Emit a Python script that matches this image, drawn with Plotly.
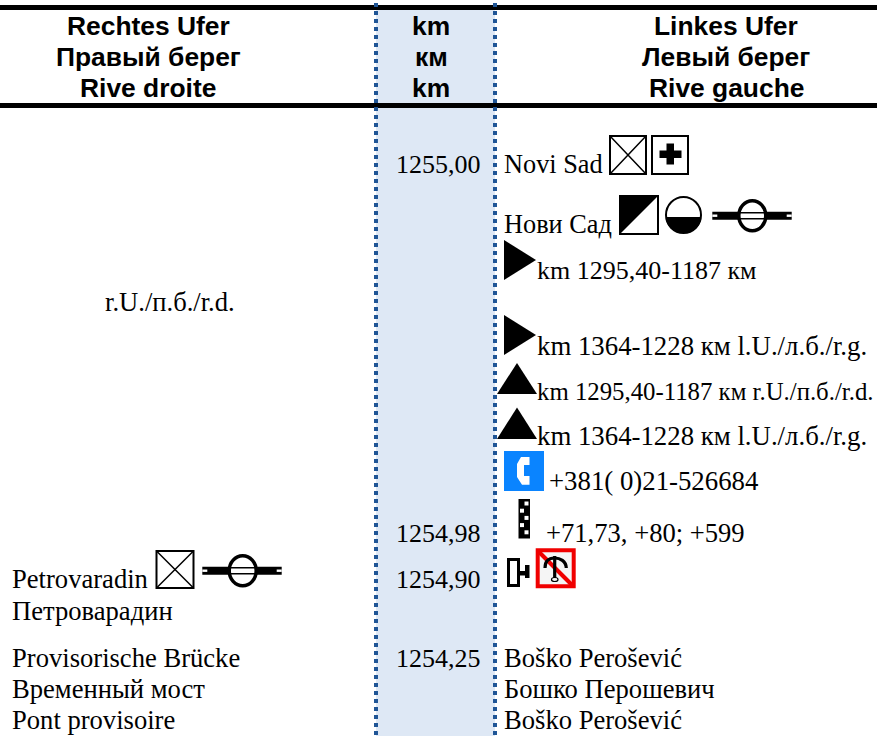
import plotly.graph_objects as go

# ---------- content ----------
header_left = ["Rechtes Ufer", "Правый берег", "Rive droite"]
header_km = ["km", "км", "km"]
header_right = ["Linkes Ufer", "Левый берег", "Rive gauche"]

km_values = ["1255,00", "1254,98", "1254,90", "1254,25"]

left_texts = ["r.U./п.б./r.d.", "Petrovaradin", "Петроварадин",
              "Provisorische Brücke", "Временный мост", "Pont provisoire"]

right_texts = ["Novi Sad", "Нови Сад", "km 1295,40-1187 км",
               "km 1364-1228 км l.U./л.б./r.g.",
               "km 1295,40-1187 км r.U./п.б./r.d.",
               "km 1364-1228 км l.U./л.б./r.g.",
               "+381( 0)21-526684", "+71,73, +80; +599",
               "Boško Perošević", "Бошко Перошевич", "Boško Perošević"]

# ---------- layout (baselines, x anchors) ----------
W, H = 883, 736
SERIF = "Liberation Serif"
SANS = "Liberation Sans"
FS = 26
LFS = 26.6
HFS = 26.4
header_base = [35, 66.5, 97]
km_base = [173, 542, 588, 667]
left_base = [311, 588, 620, 667, 698, 729]
left_x = [170, 12, 12, 12, 12, 12]
left_anchor = ["center", "left", "left", "left", "left", "left"]
right_base = [173, 233, 279, 355, 400, 445, 490, 542, 667, 698, 729]
right_x = [504, 504, 537, 537, 537, 537, 549, 546, 503.5, 503.5, 503.5]
right_size = [26.3, 26.3, 26, 26.8, 24.8, 26.8, 26.8, 26.6, 26.6, 26.6, 26.6]

anns = []


def text(x, base, s, size, family, anchor="left", bold=False, color="black"):
    asc, desc = (0.891, 0.216) if family == SERIF else (0.905, 0.212)
    yc = base - (asc - desc) / 2 * size
    anns.append(dict(x=x, y=yc, xref="x", yref="y", text=f"<b>{s}</b>" if bold else s,
                     showarrow=False, xanchor=anchor, yanchor="middle", borderpad=0, borderwidth=0,
                     font=dict(family=family, size=size, color=color)))


for i in range(3):
    text(148, header_base[i], header_left[i], HFS, SANS, "center", True)
    text(431, header_base[i], header_km[i], HFS, SANS, "center", True)
    text(726, header_base[i], header_right[i], HFS, SANS, "center", True)
for s, b in zip(km_values, km_base):
    text(481, b, s, FS, SERIF, "right")
for s, b, x, a in zip(left_texts, left_base, left_x, left_anchor):
    text(x, b, s, LFS, SERIF, a)
for s, b, x, z in zip(right_texts, right_base, right_x, right_size):
    text(x, b, s, z, SERIF)

shapes = []


def rect(x0, y0, x1, y1, fill="black", line=None, lw=0):
    shapes.append(dict(type="rect", x0=x0, y0=y0, x1=x1, y1=y1, fillcolor=fill,
                       line=dict(color=line or "rgba(0,0,0,0)", width=lw), layer="above"))


def path(d, fill="rgba(0,0,0,0)", line=None, lw=0):
    shapes.append(dict(type="path", path=d, fillcolor=fill,
                       line=dict(color=line or "rgba(0,0,0,0)", width=lw), layer="above"))


def ell(x0, y0, x1, y1, fill="white", line="black", lw=2):
    shapes.append(dict(type="circle", x0=x0, y0=y0, x1=x1, y1=y1, fillcolor=fill,
                       line=dict(color=line, width=lw), layer="above"))


def x_box(x0, y0, x1, y1):
    rect(x0, y0, x1, y1, "white", "black", 2)
    path(f"M{x0},{y0}L{x1},{y1}M{x1},{y0}L{x0},{y1}", line="black", lw=1.5)


def bridge(x0, xc, yc):
    x1 = x0 + 79.4
    rect(x0, yc - 4, x1, yc + 4)
    rect(x0, yc - 1.2, x0 + 5, yc + 1.2, "white")
    rect(x1 - 5, yc - 1.2, x1, yc + 1.2, "white")
    ell(xc - 13.5, yc - 15, xc + 13.5, yc + 15, "white", "black", 3.5)
    path(f"M{xc-13},{yc-3}L{xc+13},{yc-3}M{xc-13},{yc+3}L{xc+13},{yc+3}", line="black", lw=1.5)


# column band and rules
rect(376, 10, 495, H, "#DEE8F5")
rect(0, 5, 877, 10)
rect(0, 103, 877, 108)
for x in (376, 495):
    shapes.append(dict(type="line", x0=x, x1=x, y0=3, y1=H, layer="above",
                       line=dict(color="#1F5596", width=4, dash="4px,4px")))

# Novi Sad icons
x_box(610, 136, 646, 174)
rect(652, 136, 688, 174, "white", "black", 2)
path("M666.5,143.5H674V150.5H681.5V158H674V164.5H666.5V158H659.5V150.5H666.5Z", "black")
rect(620, 196, 658, 234, "white", "black", 2)
path("M620,196H658L620,234Z", "black")
ell(666, 197, 701, 233, "white", "black", 2)
path("M666,217H701C701,227 693,233 683.5,233C674,233 666,227 666,217Z", "black")
bridge(712.3, 752.3, 215.7)

# direction triangles
path("M504,240L536,260L504,280Z", "black")
path("M504,315L536,335L504,355Z", "black")
path("M517,363L537,394H497Z", "black")
path("M517,407.5L537,439H497Z", "black")

# phone
rect(504, 451, 544, 491, "#0A84FF")
path("M521,457H529.5V465H524V476H529.5V484.7H522L517,477V464Z", "white")

# checker strip
rect(518.5, 499, 530, 538.5)
for k in range(5):
    xa = 520 if k % 2 else 524.5
    rect(xa, 501.5 + k * 7.2, xa + 4, 505.5 + k * 7.2, "white")

# berth icon
rect(508.5, 559.5, 518.5, 585.5, "white", "black", 3)
rect(519, 571, 525.5, 575.5)
rect(525, 565, 529.5, 578)

# no-anchoring sign
rect(537.7, 550.3, 573.7, 586.3, "#F5F5F5", "#F00000", 4)
path("M539,552L572,585", line="#F00000", lw=4)
path("M545,568C545,561 549,558 554.7,558C560,558 566,561 566.3,568", line="black", lw=3.2)
path("M554.7,556V578", line="black", lw=3.2)
ell(551.5, 577.5, 558, 581.5, "rgba(0,0,0,0)", "black", 1.2)

# left icons
x_box(156.5, 551, 193.5, 588)
bridge(202.3, 242.7, 570.7)

fig = go.Figure()
fig.update_layout(
    width=W, height=H, margin=dict(l=0, r=0, t=0, b=0),
    paper_bgcolor="white", plot_bgcolor="white", showlegend=False,
    xaxis=dict(range=[0, W], visible=False, fixedrange=True),
    yaxis=dict(range=[H, 0], visible=False, fixedrange=True),
    shapes=shapes, annotations=anns,
)
fig.write_html("out.html", config=dict(displayModeBar=False),
               post_script="document.body.style.margin='0';document.body.style.overflow='hidden';")
